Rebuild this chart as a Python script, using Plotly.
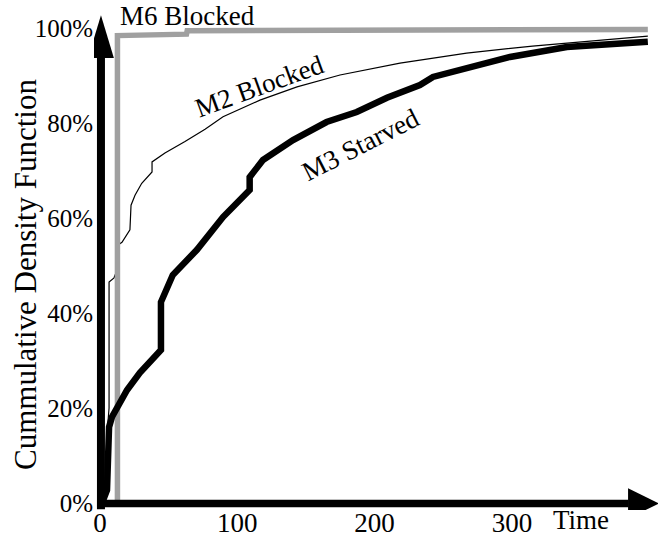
import plotly.graph_objects as go

# ---- data ----
m3_x = [0, 2.2, 5.1, 5.8, 6.6, 8.7, 14.6, 19.7, 29, 36.4, 43.7, 44.4, 44.4, 53, 70.6, 89.6,
        109, 109, 118.7, 140.6, 165, 187, 209, 233, 242.5, 267, 298.6, 340, 399]
m3_y = [0, 0.5, 2.7, 6.3, 16, 18.1, 21, 23.8, 27.4, 29.5, 31.6, 32.2, 42.3, 48, 53.3, 60.2,
        65.9, 68.6, 72.2, 76.4, 80.2, 82.3, 85.3, 88, 89.7, 91.6, 93.9, 96, 97.1]

m2_x = [0, 4, 5.8, 6.6, 6.6, 10.2, 12.4, 13.1, 16, 21.8, 22.6, 25.5, 30.4, 37.9, 37.9, 47.3,
        61.9, 76.5, 89.6, 116.5, 143.5, 174.8, 218.5, 267, 315, 399]
m2_y = [0, 3, 17, 20, 46.5, 47.4, 49, 54.3, 54.9, 57.5, 62.7, 64.8, 67.3, 69.7, 71.8, 73.7,
        76.1, 78.7, 81.3, 84.8, 87.6, 90.1, 92.6, 94.7, 96.2, 98.3]

m6_x = [12.7, 12.7, 63, 63.5, 399]
m6_y = [0, 98.4, 98.7, 99.4, 99.7]

x_ticks = [0, 100, 200, 300]
x_tick_labels = ["0", "100", "200", "300"]
y_ticks = [0, 20, 40, 60, 80, 100]
y_tick_labels = ["0%", "20%", "40%", "60%", "80%", "100%"]

FONT = "Liberation Serif, Times New Roman, serif"

fig = go.Figure()
fig.add_trace(go.Scatter(x=m2_x, y=m2_y, mode="lines", line=dict(color="black", width=1.2),
                         hoverinfo="skip", showlegend=False))
fig.add_trace(go.Scatter(x=m6_x, y=m6_y, mode="lines", line=dict(color="#a0a0a0", width=5.5),
                         hoverinfo="skip", showlegend=False))
fig.add_trace(go.Scatter(x=m3_x, y=m3_y, mode="lines", line=dict(color="black", width=6.5),
                         hoverinfo="skip", showlegend=False))

# axis lines with arrow heads
fig.add_shape(type="line", x0=0.7, x1=0.7, y0=-1.3, y1=94, line=dict(color="black", width=8))
fig.add_shape(type="path", path="M -8.7,93.7 L 10.1,93.7 L 0.7,102.7 Z",
              fillcolor="black", line=dict(color="black", width=0))
fig.add_shape(type="line", x0=-2.2, x1=385, y0=-0.1, y1=-0.1, line=dict(color="black", width=7.5))
fig.add_shape(type="path", path="M 384.6,3.1 L 384.6,-3.3 L 407,-0.1 Z",
              fillcolor="black", line=dict(color="black", width=0))

# curve labels
fig.add_annotation(x=63.4, y=102.6, text="M6 Blocked", showarrow=False,
                   font=dict(family=FONT, size=27, color="black"))
fig.add_annotation(x=116.5, y=87.8, text="M2 Blocked", showarrow=False, textangle=-20,
                   font=dict(family=FONT, size=27, color="black"))
fig.add_annotation(x=189.4, y=75.4, text="M3 Starved", showarrow=False, textangle=-27,
                   font=dict(family=FONT, size=27, color="black"))
fig.add_annotation(x=350.3, xref="x", yref="paper", y=0, yshift=-10, yanchor="middle",
                   text="Time", showarrow=False,
                   font=dict(family=FONT, size=27, color="black"))
fig.add_annotation(xref="paper", yref="paper", x=0, y=1 - 275 / 510, xshift=-69,
                   xanchor="center", yanchor="middle",
                   text="Cummulative Density Function", textangle=-90, showarrow=False,
                   font=dict(family=FONT, size=31, color="black"))

fig.update_layout(
    width=658, height=546,
    margin=dict(l=94, r=0, t=0, b=36),
    paper_bgcolor="white", plot_bgcolor="white",
    showlegend=False,
    font=dict(family=FONT, color="black"),
)
fig.update_xaxes(range=[-4.37, 406.4], tickvals=x_ticks, ticktext=x_tick_labels,
                 showgrid=False, zeroline=False, showline=False, ticks="",
                 ticklabelstandoff=-6,
                 tickfont=dict(family=FONT, size=27, color="black"))
fig.update_yaxes(range=[-1.474, 105.89], tickvals=y_ticks, ticktext=y_tick_labels,
                 showgrid=False, zeroline=False, showline=False, ticks="",
                 tickfont=dict(family=FONT, size=25, color="black"))

fig.write_html("out.html", config={"displayModeBar": False},
               post_script="document.body.style.margin='0';")
